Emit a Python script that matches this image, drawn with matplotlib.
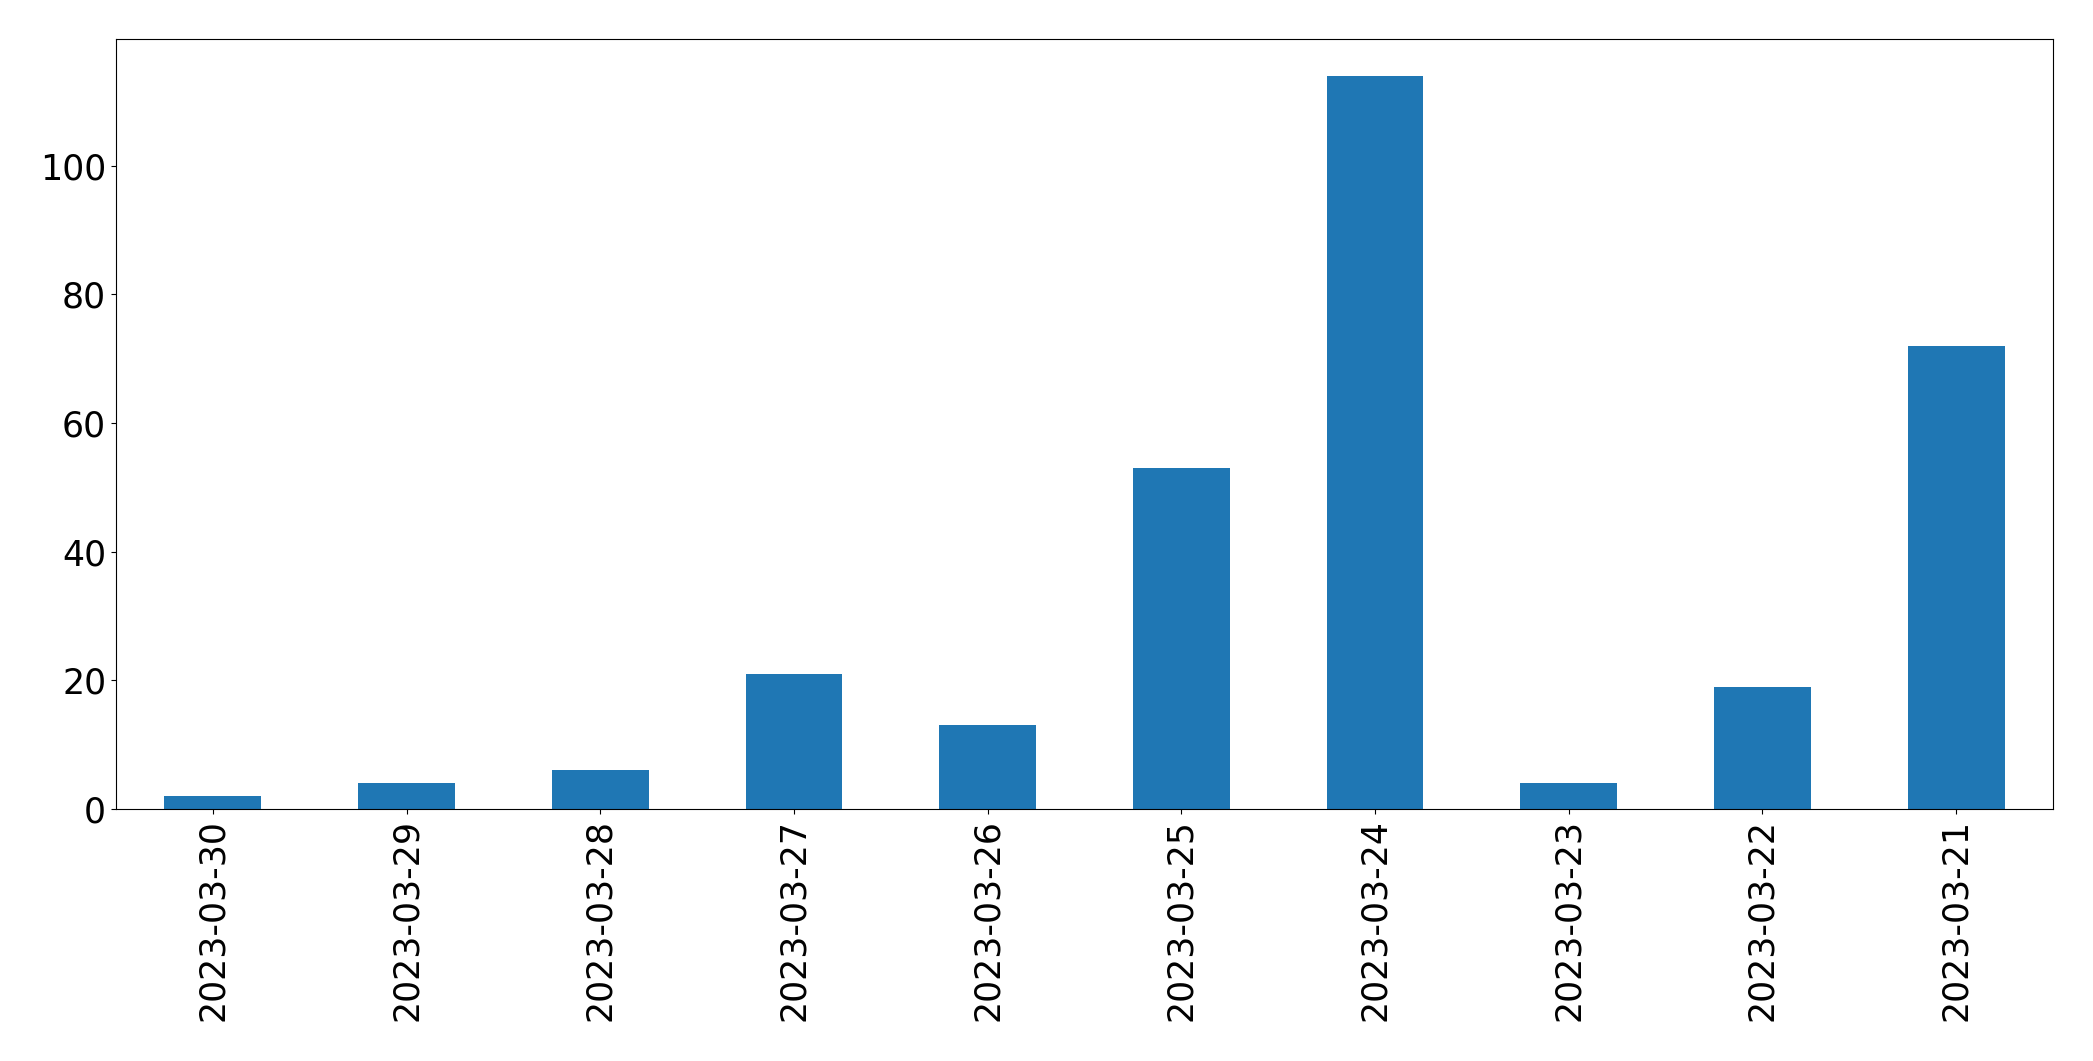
import pandas as pd
import matplotlib.pyplot as plt

# 日期和数量
dates = ['2023-03-30', '2023-03-29', '2023-03-28', '2023-03-27', '2023-03-26',
         '2023-03-25', '2023-03-24', '2023-03-23', '2023-03-22', '2023-03-21']
counts = [2, 4, 6, 21, 13, 53, 114, 4, 19, 72]

s = pd.Series(counts, index=dates)

fig = plt.figure(figsize=(20.93, 10.61), dpi=100)
ax = fig.add_subplot(111)
s.plot(kind='bar', ax=ax, fontsize=25, color='#1f77b4')
fig.subplots_adjust(left=0.0554, right=0.9809, top=0.9632, bottom=0.2375)

plt.savefig('out.png', dpi=100)
